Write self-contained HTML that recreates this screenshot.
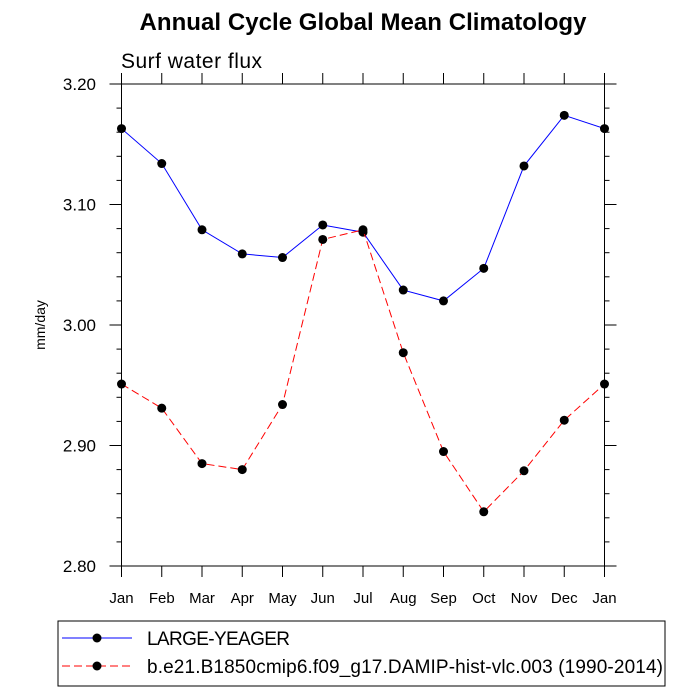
<!DOCTYPE html>
<html><head><meta charset="utf-8"><style>
body{margin:0;background:#fff;}
svg{display:block;font-family:"Liberation Sans",Arial,sans-serif;}
</style></head><body>
<svg id="chart" width="700" height="700" viewBox="0 0 700 700">
<text x="363" y="30" text-anchor="middle" font-size="24" font-weight="bold" textLength="447">Annual Cycle Global Mean Climatology</text>
<text x="121" y="68" font-size="21" textLength="141">Surf water flux</text>
<text transform="translate(45,325) rotate(-90)" text-anchor="middle" font-size="14">mm/day</text>
<g id="axes"></g>
<g id="series"></g>
<rect x="58" y="621" width="607" height="65" fill="none" stroke="#000" stroke-width="1"/>
<g>
<line x1="62" y1="638" x2="132" y2="638" stroke="#00f" stroke-width="1"/>
<circle cx="97" cy="638" r="4.5" fill="#000"/>
<text x="147" y="645" font-size="19" textLength="143">LARGE-YEAGER</text>
</g>
<g>
<line x1="62" y1="666" x2="132" y2="666" stroke="#f00" stroke-width="1" stroke-dasharray="8,4"/>
<circle cx="97" cy="666" r="4.5" fill="#000"/>
<text x="147" y="673" font-size="19" textLength="516">b.e21.B1850cmip6.f09_g17.DAMIP-hist-vlc.003 (1990-2014)</text>
</g>
</svg>
<script>
const months = ["Jan","Feb","Mar","Apr","May","Jun","Jul","Aug","Sep","Oct","Nov","Dec","Jan"];
const largeYeager = [3.163,3.134,3.079,3.059,3.056,3.083,3.077,3.029,3.020,3.047,3.132,3.174,3.163];
const damip = [2.951,2.931,2.885,2.880,2.934,3.071,3.079,2.977,2.895,2.845,2.879,2.921,2.951];
const yTicks = [2.80,2.90,3.00,3.10,3.20];
const yTickLabels = ["2.80","2.90","3.00","3.10","3.20"];

const L=121.5,R=604.5,T=84,B=566,yMin=2.8,yMax=3.2;
const xs=i=>L+(R-L)*i/(months.length-1);
const ys=v=>B-(v-yMin)/(yMax-yMin)*(B-T);
const NS="http://www.w3.org/2000/svg";
function mk(tag,attrs,parent){const e=document.createElementNS(NS,tag);for(const k in attrs)e.setAttribute(k,attrs[k]);parent.appendChild(e);return e;}
const ax=document.getElementById('axes');
const frame=mk('rect',{x:L,y:T,width:R-L,height:B-T,fill:'none',stroke:'#000','stroke-width':1},ax);


months.forEach((m,i)=>{
  const x=xs(i);
  mk('line',{x1:x,y1:B,x2:x,y2:B+11,stroke:'#000'},ax);
  mk('line',{x1:x,y1:T,x2:x,y2:T-11,stroke:'#000'},ax);
  const t=mk('text',{x:x,y:B+37,'text-anchor':'middle','font-size':'15'},ax);
  t.textContent=m;
  
  
});
for(let k=0;k<=20;k++){
  const v=yMin+k*0.02,y=ys(v),major=k%5===0,len=major?12:5;
  mk('line',{x1:L,y1:y,x2:L-len,y2:y,stroke:'#000'},ax);
  mk('line',{x1:R,y1:y,x2:R+len,y2:y,stroke:'#000'},ax);
}
yTicks.forEach((v,i)=>{
  const t=mk('text',{x:96,y:ys(v)+6,'text-anchor':'end','font-size':'17'},ax);
  t.textContent=yTickLabels[i];
  
  
});
const sg=document.getElementById('series');
function draw(vals,color,dash,name){
  const g=mk('g',{},sg);
  
  
  const p=mk('polyline',{points:vals.map((v,i)=>xs(i)+','+ys(v)).join(' '),fill:'none',stroke:color,'stroke-width':1},g);
  if(dash)p.setAttribute('stroke-dasharray',dash);
  vals.forEach((v,i)=>{
    const c=mk('circle',{cx:xs(i),cy:ys(v),r:4.5,fill:'#000'},g);
    
    
  });
}
draw(largeYeager,'#00f',null,'series-large-yeager');
draw(damip,'#f00','8,4','series-damip');
</script>
</body></html>
